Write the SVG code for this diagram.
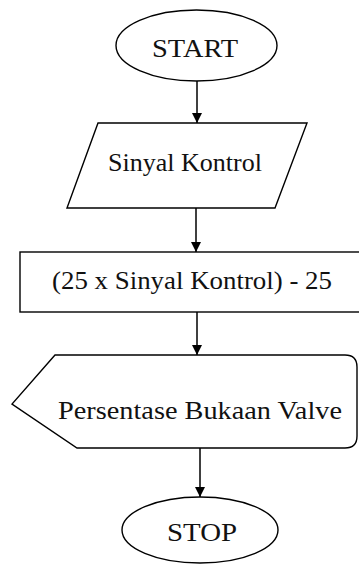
<svg xmlns="http://www.w3.org/2000/svg" width="359" height="565" viewBox="0 0 359 565">
<style>
.s{fill:#fff;stroke:#000;stroke-width:1.4}
.t{font-family:"Liberation Serif","Times New Roman",serif;font-size:25px;fill:#111}
.c{stroke:#000;stroke-width:1.5;fill:none}
</style>
<defs>
<marker id="a" markerWidth="10" markerHeight="12" refX="10" refY="5" orient="auto" markerUnits="userSpaceOnUse">
<path d="M0,0 L10,5 L0,10 z" fill="#000"/>
</marker>
</defs>
<rect width="359" height="565" fill="#fff"/>
<g id="connectors">
<line class="c" x1="197" y1="81" x2="197" y2="123" marker-end="url(#a)"/>
<line class="c" x1="196" y1="208" x2="196" y2="252" marker-end="url(#a)"/>
<line class="c" x1="197" y1="312" x2="197" y2="355" marker-end="url(#a)"/>
<line class="c" x1="200" y1="448" x2="200" y2="497" marker-end="url(#a)"/>
</g>
<g id="start">
<ellipse class="s" cx="196.5" cy="45.5" rx="80.5" ry="35.5"/>
<text class="t" x="195" y="57" text-anchor="middle" textLength="86" lengthAdjust="spacingAndGlyphs">START</text>
</g>
<g id="input">
<polygon class="s" points="98,123 307,123 275,208 67,208"/>
<text class="t" x="185" y="171" text-anchor="middle" textLength="154" lengthAdjust="spacingAndGlyphs">Sinyal Kontrol</text>
</g>
<g id="process">
<rect class="s" x="20" y="252" width="345" height="60"/>
<text class="t" x="192" y="289" text-anchor="middle" textLength="280" lengthAdjust="spacingAndGlyphs">(25 x Sinyal Kontrol) - 25</text>
</g>
<g id="display">
<path class="s" d="M55,355 L345,355 Q357,355 357,367 L357,436 Q357,448 345,448 L77,448 L12,404 Z"/>
<text class="t" x="200" y="419" text-anchor="middle" textLength="284" lengthAdjust="spacingAndGlyphs">Persentase Bukaan Valve</text>
</g>
<g id="stop">
<ellipse class="s" cx="200" cy="530" rx="78" ry="33"/>
<text class="t" x="202" y="541" text-anchor="middle" textLength="70" lengthAdjust="spacingAndGlyphs">STOP</text>
</g>
</svg>
